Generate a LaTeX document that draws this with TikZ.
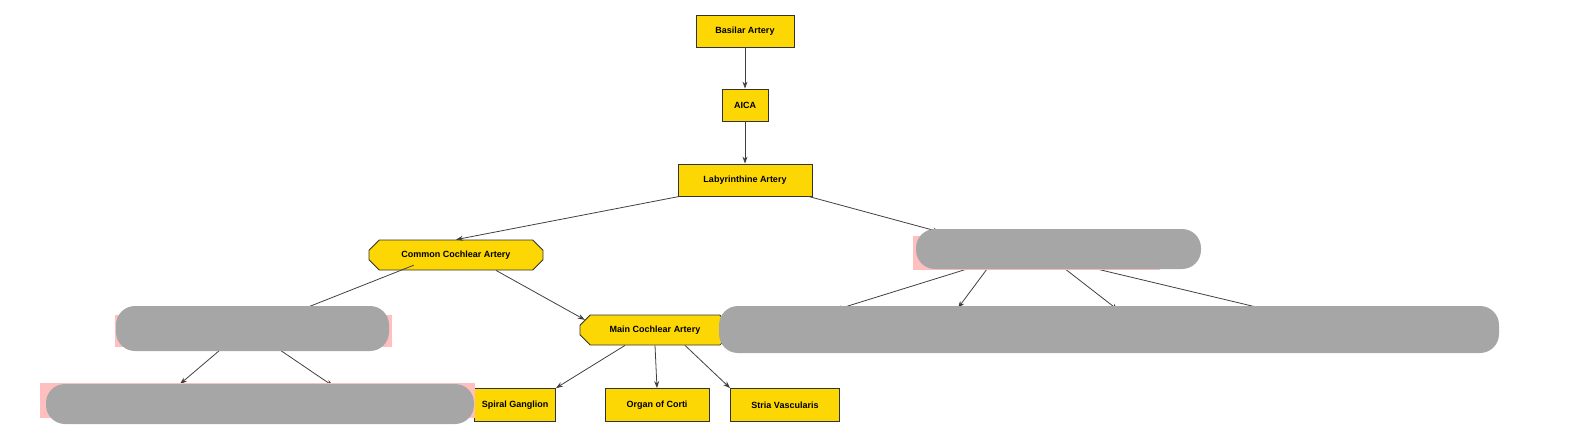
\documentclass[tikz,border=0pt]{standalone}
\usepackage{fontspec}
\setmainfont{Liberation Sans}
\usetikzlibrary{shapes.misc,arrows.meta}
\begin{document}
\begin{tikzpicture}[x=1pt,y=-1pt,
 box/.style={draw=black!80,fill=yellow!75!orange,line width=0.8pt,inner sep=0pt,font=\fontsize{9}{10}\selectfont\bfseries},
 oct/.style={box,chamfered rectangle,chamfered rectangle xsep=6pt,chamfered rectangle ysep=6pt},
 arr/.style={-{Stealth[length=7pt,width=5pt]},line width=0.8pt,draw=black!75},
 blob/.style={draw=black!35,fill=black!35,rounded corners=18pt,line width=2pt},
 pink/.style={fill=red!25,draw=none}]
\useasboundingbox (0,0) rectangle (1580,447);
\node[box,minimum width=98pt,minimum height=32pt] (ba) at (745,31) {Basilar Artery};
\node[box,minimum width=46pt,minimum height=32pt] (aica) at (745,105) {AICA};
\node[box,minimum width=134pt,minimum height=32pt] (lab) at (745,180) {Labyrinthine Artery};
\node[oct,minimum width=174pt,minimum height=30pt] (cca) at (456,255) {Common Cochlear Artery};
\node[oct,minimum width=150pt,minimum height=30pt] (mca) at (655,330) {Main Cochlear Artery};
\node[box,minimum width=81pt,minimum height=33pt] (sg) at (515,405) {Spiral Ganglion};
\node[box,minimum width=104pt,minimum height=33pt] (oc) at (657,405) {Organ of Corti};
\node[box,minimum width=109pt,minimum height=33pt] (sv) at (785,405) {Stria Vascularis};
\coordinate (rb) at (1000,255); \coordinate (rbt) at (940,232);
\coordinate (lb) at (250,330);
\coordinate (l1) at (180,384); \coordinate (l2) at (333,386);
\coordinate (r1) at (835,310); \coordinate (r2) at (958,308);
\coordinate (r3) at (1118,310); \coordinate (r4) at (1273,311);
\draw[arr] (ba) -- (aica);
\draw[arr] (aica) -- (lab);
\draw[arr] (lab.south west) ++(2,0) -- (cca.north);
\draw[arr] (lab.south east) ++(-4,0) -- (rbt);
\draw[arr] (cca.south west) ++(40,0) -- (lb);
\draw[arr] (cca.south) ++(40,0) -- (mca.north west);
\draw[arr] (lb) ++(-30,20) -- (l1);
\draw[arr] (lb) ++(30,20) -- (l2);
\draw[arr] (mca.south) ++(-30,0) -- (sg.north east);
\draw[arr] (mca.south) -- (oc.north);
\draw[arr] (mca.south) ++(30,0) -- (sv.north west);
\draw[arr] (rb) ++(-20,10) -- (r1);
\draw[arr] (rb) ++(-10,10) -- (r2);
\draw[arr] (rb) ++(60,10) -- (r3);
\draw[arr] (rb) ++(80,10) -- (r4);
% redaction marks
\fill[pink] (913,236) rectangle (1160,270);
\draw[blob] (917,230) rectangle (1200,268);
\fill[pink] (115,315) rectangle (392,347);
\draw[blob] (117,307) rectangle (388,350);
\fill[pink] (40,383) rectangle (475,418);
\draw[blob] (47,385) rectangle (473,423);
\fill[pink] (735,320) rectangle (1480,347);
\draw[blob] (720,307) rectangle (1498,352);
\end{tikzpicture}
\end{document}
